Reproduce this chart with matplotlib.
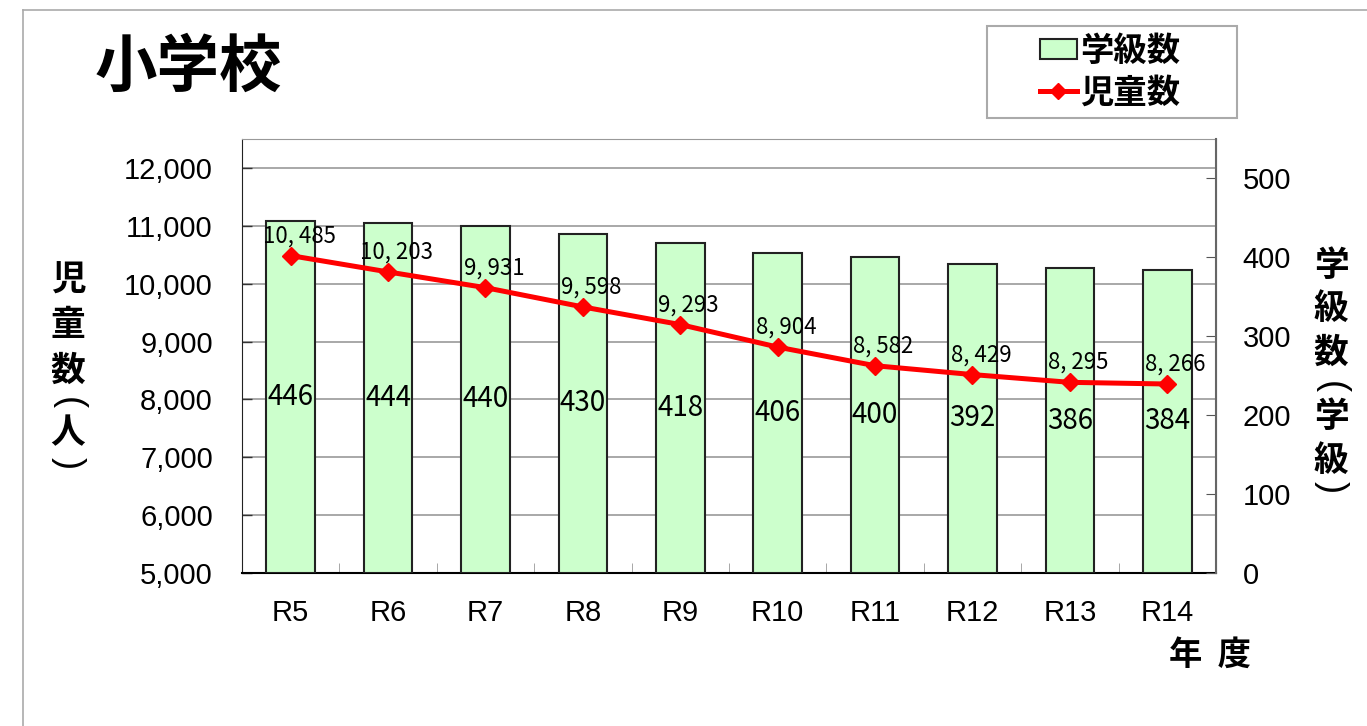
import matplotlib
matplotlib.use("Agg")
import matplotlib.pyplot as plt
from matplotlib.lines import Line2D
from matplotlib.patches import Patch, Rectangle
import numpy as np

# データ
years = ["R5", "R6", "R7", "R8", "R9", "R10", "R11", "R12", "R13", "R14"]
classes = [446, 444, 440, 430, 418, 406, 400, 392, 386, 384]          # 学級数
pupils = [10485, 10203, 9931, 9598, 9293, 8904, 8582, 8429, 8295, 8266]  # 児童数
pupil_labels = ["10, 485", "10, 203", "9, 931", "9, 598", "9, 293",
                "8, 904", "8, 582", "8, 429", "8, 295", "8, 266"]

JP = ["Noto Sans CJK JP", "DejaVu Sans"]
NUM = ["Liberation Sans", "DejaVu Sans"]

plt.rcParams["font.family"] = JP

W, H = 1367, 726
fig = plt.figure(figsize=(W / 100, H / 100), dpi=100)

x = np.arange(len(years))

# 児童数の軸 (左) : 背景とグリッド
ax = fig.add_axes([242 / W, 1 - 573 / H, (1216 - 242) / W, (573 - 139) / H])
ax.set_xlim(-0.5, len(years) - 0.5)
ax.set_ylim(5000, 12500)
ax.set_yticks(np.arange(5000, 12001, 1000))
ax.set_yticklabels([f"{v:,}" for v in range(5000, 12001, 1000)], family=NUM, fontsize=21)
ax.grid(axis="y", color="#999999", linewidth=1.2)
ax.set_axisbelow(True)
ax.tick_params(axis="y", direction="in", length=7, width=1, color="#333333", pad=21)
ax.set_xticks(x)
ax.set_xticklabels(years, family=NUM, fontsize=21)
ax.set_xticks(x[:-1] + 0.5, minor=True)
ax.tick_params(axis="x", which="major", length=0, pad=19)
ax.tick_params(axis="x", which="minor", direction="in", length=7, color="#999999")
for s in ["top", "right"]:
    ax.spines[s].set_color("#999999")
ax.spines["left"].set_color("#222222")
ax.spines["bottom"].set_color("black")
ax.spines["bottom"].set_linewidth(1.5)

# 学級数の軸 (右) : 棒グラフ
ax2 = ax.twinx()
ax2.set_ylim(0, 550)
ax2.bar(x, classes, width=0.5, color="#CCFFCC", edgecolor="#222222", linewidth=1.5)
ax2.set_yticks(np.arange(0, 501, 100))
ax2.set_yticklabels([str(v) for v in range(0, 501, 100)], family=NUM, fontsize=21)
ax2.tick_params(axis="y", direction="in", length=7, color="#555555", pad=19)
for s in ["top", "left", "bottom"]:
    ax2.spines[s].set_visible(False)
ax2.spines["right"].set_color("#666666")
ax2.spines["right"].set_linewidth(1.5)
for xi, c in zip(x, classes):
    ax2.text(xi, c / 2, str(c), ha="center", va="center", fontsize=20, family=JP)

# 児童数の折れ線 (最前面)
ax3 = fig.add_axes(ax.get_position(), sharex=ax, sharey=ax)
ax3.axis("off")
ax3.patch.set_visible(False)
ax3.plot(x, pupils, color="red", linewidth=3.6, marker="D", markersize=9)
for xi, p, lab in zip(x, pupils, pupil_labels):
    ax3.annotate(lab, (xi, p), xytext=(6, 6), textcoords="offset points",
                 ha="center", va="bottom", fontsize=16, family=JP)

# タイトル
fig.text(188 / W, 1 - 67 / H, "小学校", fontsize=45, fontweight="bold", ha="center", va="center")


# 縦書きラベル (一文字ずつ配置)
def vertical_label(chars, xc, ys):
    for ch, yc in zip(chars, ys):
        if ch in "()":
            fig.text(xc / W, 1 - yc / H, ch, fontsize=26, family=NUM, rotation=-90,
                     ha="center", va="center", rotation_mode="anchor")
        else:
            fig.text(xc / W, 1 - yc / H, ch, fontsize=25, fontweight="bold",
                     ha="center", va="center")


vertical_label("児童数(人)", 68, [280, 325, 370, 403, 433, 463])
vertical_label("学級数(学級)", 1331, [265, 308, 352, 387, 417, 460, 487])

fig.text(1210 / W, 1 - 655 / H, "年  度", fontsize=24, fontweight="bold", ha="center", va="center")

# 凡例 (枠は別に描く)
fig.add_artist(Rectangle((987 / W, 1 - 118 / H), 250 / W, 92 / H, transform=fig.transFigure,
                         fill=False, edgecolor="#aaaaaa", linewidth=1.5))
handles = [Patch(facecolor="#CCFFCC", edgecolor="#222222", linewidth=1.5),
           Line2D([], [], color="red", linewidth=3.6, marker="D", markersize=8)]
leg = fig.legend(handles, ["学級数", "児童数"], loc="center",
                 bbox_to_anchor=(1110 / W, 1 - 72 / H), borderaxespad=0,
                 frameon=False, prop={"size": 24, "weight": "bold", "family": JP},
                 handlelength=1.1, handleheight=0.55, handletextpad=0.1,
                 labelspacing=0.25)

# 外枠
fig.add_artist(Line2D([23 / W, 23 / W], [0, 1 - 10 / H], color="#aaaaaa", linewidth=1.2))
fig.add_artist(Line2D([23 / W, 1], [1 - 10 / H, 1 - 10 / H], color="#aaaaaa", linewidth=1.2))

fig.savefig("out.png", dpi=100)
